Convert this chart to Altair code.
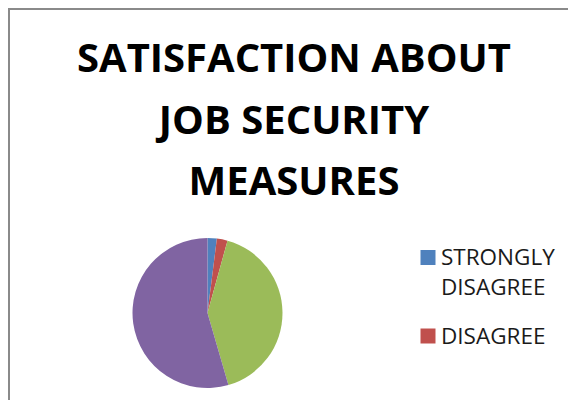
import altair as alt
import pandas as pd

# ---- data ----
categories = ["STRONGLY DISAGREE", "DISAGREE", "AGREE", "STRONGLY AGREE"]
values = [2.0, 2.3, 41.2, 54.5]
colors = ["#4F81BD", "#C0504D", "#9BBB59", "#8064A2"]
title_lines = ["SATISFACTION ABOUT", "JOB SECURITY", "MEASURES"]

df = pd.DataFrame({"category": categories, "value": values, "idx": list(range(len(categories)))})

color_scale = alt.Scale(domain=categories, range=colors)

pie = alt.Chart(df).mark_arc(radius=75).encode(
    theta=alt.Theta("value:Q", stack=True),
    color=alt.Color("category:N", scale=color_scale, legend=None),
    order=alt.Order("idx:Q"),
    x=alt.value(199.5),
    y=alt.value(305),
)

# custom legend; entries that fall below the frame are cut off, as in the original
leg_base = alt.Chart(df).transform_calculate(
    ly="249.5 + datum.idx * 78.5",
    lines="split(datum.category, ' ')",
).transform_filter("datum.ly < 370")
leg_sym = leg_base.mark_square(size=225, opacity=1).encode(
    x=alt.value(420),
    y=alt.Y("ly:Q", scale=None),
    color=alt.Color("category:N", scale=color_scale, legend=None),
)
leg_txt = leg_base.mark_text(
    align="left", baseline="alphabetic", font="Open Sans", fontSize=22.5,
    color="#1a1a1a", lineHeight=30, dy=7.5,
).encode(
    x=alt.value(433),
    y=alt.Y("ly:Q", scale=None),
    text=alt.Text("lines:N"),
)

title = alt.Chart(alt.Data(values=[{"t": title_lines}])).mark_text(
    align="center", baseline="alphabetic", font="Open Sans", fontWeight="bold",
    fontSize=40, lineHeight=61.5, color="#000000",
).encode(
    x=alt.value(286),
    y=alt.value(64),
    text=alt.Text("t:N"),
)

border_top = alt.Chart(alt.Data(values=[{}])).mark_rule(color="#8a8a8a", strokeWidth=2).encode(
    x=alt.value(0), x2=alt.value(560), y=alt.value(1)
)
border_left = alt.Chart(alt.Data(values=[{}])).mark_rule(color="#8a8a8a", strokeWidth=2).encode(
    x=alt.value(1), y=alt.value(0), y2=alt.value(392)
)

chart = alt.layer(border_top, border_left, title, pie, leg_sym, leg_txt).properties(
    width=560, height=392, padding=0, autosize=alt.AutoSizeParams(type="none"),
    background="white",
).configure_view(stroke=None)

chart.save("out.html", embed_options={"renderer": "svg", "actions": False})
